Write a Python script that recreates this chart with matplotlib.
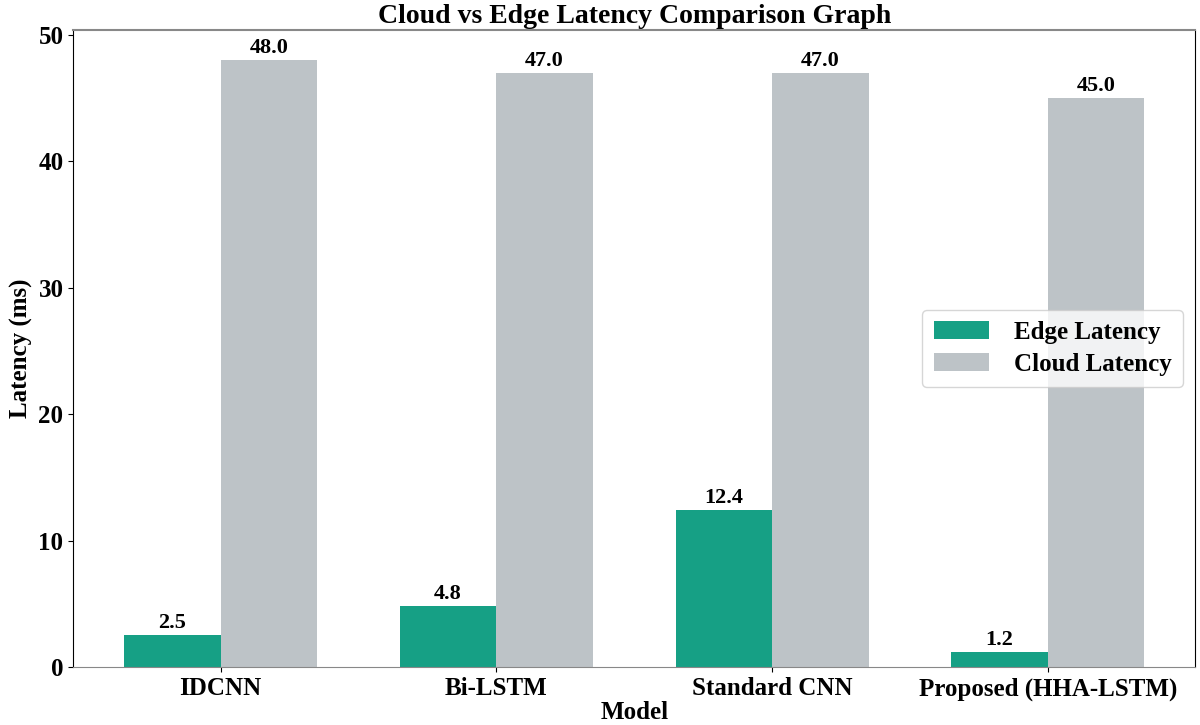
import matplotlib
matplotlib.use("Agg")
import matplotlib.pyplot as plt
import numpy as np

models = ["IDCNN", "Bi-LSTM", "Standard CNN", "Proposed (HHA-LSTM)"]
edge_latency = [2.5, 4.8, 12.4, 1.2]
cloud_latency = [48.0, 47.0, 47.0, 45.0]

plt.rcParams['font.family'] = ['Liberation Serif', 'DejaVu Serif']
plt.rcParams['font.weight'] = 'bold'

fig = plt.figure(figsize=(12, 7.25), dpi=100)
ax = fig.add_axes([0.061, 0.08, 0.935, 0.879])

x = np.arange(len(models))
w = 0.35
b1 = ax.bar(x - w/2, edge_latency, w, color="#16a085", label="Edge Latency")
b2 = ax.bar(x + w/2, cloud_latency, w, color="#bdc3c7", label="Cloud Latency")

for bars in (b1, b2):
    for r in bars:
        h = r.get_height()
        ax.text(r.get_x() + r.get_width()/2, h + 0.15, f"{h:.1f}", ha="center", va="bottom",
                fontsize=16, fontweight="bold")

ax.set_xticks(x)
ax.set_xticklabels(models, fontsize=18, fontweight="bold")
ax.tick_params(axis='y', labelsize=18)
ax.tick_params(axis='x', pad=4)
for t in ax.get_yticklabels():
    t.set_fontweight("bold")
ax.set_xlabel("Model", fontsize=18, fontweight="bold", labelpad=0)
ax.set_ylabel("Latency (ms)", fontsize=18, fontweight="bold", labelpad=4)
ax.set_title("Cloud vs Edge Latency Comparison Graph", fontsize=20, fontweight="bold", pad=5)

ax.spines['top'].set_color('#888888')
ax.spines['bottom'].set_color('#888888')
ax.spines['top'].set_linewidth(1.5)

leg = ax.legend(loc="center right", fontsize=18, handlelength=2.2, handleheight=0.7,
                borderpad=0.45, labelspacing=0.35, handletextpad=1.0)
for t in leg.get_texts():
    t.set_fontweight("bold")

fig.savefig("out.png", dpi=100)
